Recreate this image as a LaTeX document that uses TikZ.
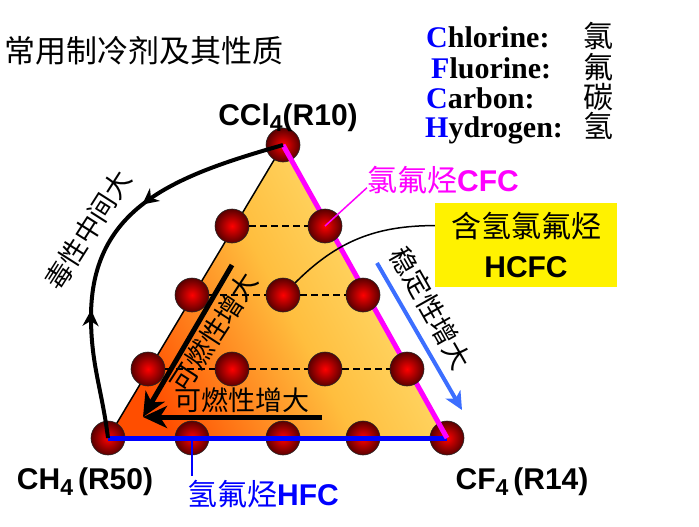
\documentclass[tikz,border=0pt]{standalone}
\usepackage{fontspec}
\setmainfont{Liberation Serif}
\setsansfont{Liberation Sans}
\newfontfamily\cjk{Noto Sans CJK SC}
\usetikzlibrary{arrows.meta,decorations.markings,calc}

\newcommand{\fsz}[1]{\fontsize{#1}{#1}\selectfont}
\newcommand{\subn}[1]{\raisebox{-6pt}{\fsz{23}#1}}
\definecolor{hotorange}{RGB}{255,78,0}
\definecolor{midorange}{RGB}{255,190,62}
\definecolor{paleyellow}{RGB}{255,230,125}
\definecolor{darkball}{RGB}{90,0,0}
\definecolor{arrowblue}{RGB}{60,110,255}
\definecolor{cfcpink}{RGB}{255,0,255}
\definecolor{hfcblue}{RGB}{0,0,255}

\begin{document}
\begin{tikzpicture}[x=1pt,y=1pt,
    ball/.style={circle, minimum size=34pt, inner sep=0pt, draw=black!85,
        line width=0.6pt, inner color=red, outer color=darkball},
    hline/.style={line width=1.5pt, dash pattern=on 7pt off 4pt},
    lbl/.style={font=\sffamily\bfseries\fsz{30}, inner sep=0pt},
    zh/.style={font=\cjk\fsz{27}, inner sep=0pt},
    legend/.style={font=\rmfamily\bfseries\fsz{30}, inner sep=0pt, anchor=base west},
    bigarrow/.style={line width=5pt, -{Stealth[length=24pt,width=22pt,inset=7pt]}}]
\useasboundingbox (0,0) rectangle (699,-527);

% title and legend
\node[font=\cjk\fsz{31}, inner sep=0pt, anchor=west] (title) at (4,-51) {常用制冷剂及其性质};
\foreach \k/\ltr/\rest/\x/\y/\ch in {cl/C/hlorine/426/48/氯, fl/F/luorine/431/78/氟,
        ca/C/arbon/426/108/碳, hy/H/ydrogen/425/137/氢} {
    \node[legend] (\k) at (\x,-\y) {\textcolor{hfcblue}{\ltr}\rest:};
    \node[legend, font=\cjk\fsz{30}] (\k-zh) at (583,-\y) {\ch};
}

% triangle
\coordinate (cl) at (108,-438);
\coordinate (ct) at (283,-145);
\coordinate (cr) at (447,-438);
\shade[left color=hotorange, right color=paleyellow, middle color=midorange, shading angle=118]
    (cl) -- (ct) -- (cr) -- cycle;
\draw[line width=1.5pt] (cl) -- (ct);

% corner and bottom balls
\foreach \n/\x/\y in {b00/108/438, b01/192/438, b02/283/438, b03/363/438, b04/447/438, b40/283/145}
    \node[ball] (\n) at (\x,-\y) {};

\draw[hfcblue, line width=5pt] (b00.center) -- (b04.center);
\draw[cfcpink, line width=5pt] (b40.center) -- (b04.center);

% toxicity path
\coordinate (tox) at (91,-317);
\draw[line width=4pt, postaction={decorate}, decoration={markings,
        mark=at position 0.38 with {\arrow{Stealth[length=16pt,width=16pt,inset=5pt]}},
        mark=at position 0.68 with {\arrowreversed{Stealth[length=16pt,width=16pt,inset=5pt]}}}]
    (b40.center) to[out=196, in=90, looseness=1.1] (tox) to[out=-90, in=97] (b00.center);

% inner balls
\foreach \n/\x/\y in {b10/148/369, b11/232/369, b12/325/369, b13/407/369,
        b20/192/295, b21/283/295, b22/363/295, b30/232/226, b31/325/226}
    \node[ball] (\n) at (\x,-\y) {};
\foreach \a/\b in {b10/b11, b11/b12, b12/b13, b20/b21, b21/b22, b30/b31}
    \draw[hline] (\a.east) -- (\b.west);

% flammability
\coordinate (ftip) at (143,-417);
\coordinate (fup) at (232,-265);
\coordinate (fright) at (322,-417);
\draw[bigarrow] (fup) -- (ftip);
\draw[bigarrow] (fright) -- (ftip);
\node[zh, rotate=57] (flam1) at (214,-332) {可燃性增大};
\node[zh] (flam2) at (242,-400) {可燃性增大};

% stability
\coordinate (sa) at (377,-263);
\coordinate (sb) at (462,-410);
\draw[arrowblue, line width=4pt, -{Stealth[length=18pt,width=17pt,inset=5pt]}] (sa) -- (sb);
\node[zh, rotate=-60.5] (stab) at (431,-308) {稳定性增大};

\node[zh, rotate=57.5] (toxlbl) at (88,-230) {毒性中间大};

% vertex labels
\node[lbl, anchor=base] (ccl4) at (288,-125) {CCl\subn{4}(R10)};
\node[lbl, anchor=base] (ch4) at (85,-489) {CH\subn{4}\,(R50)};
\node[lbl, anchor=base] (cf4) at (522,-489) {CF\subn{4}\,(R14)};

% families
\node[cfcpink, lbl, anchor=base] (cfc) at (443,-191) {{\cjk\mdseries 氯氟烃}CFC};
\draw[cfcpink, line width=1.5pt] ([yshift=6pt]cfc.south west) -- (b31.center);

\node[fill=yellow, minimum width=182pt, minimum height=84pt, inner sep=0pt, align=center,
    font=\fontsize{30}{40}\selectfont] (hcfc) at (526,-245) {{\cjk 含氢氯氟烃}\\{\sffamily\bfseries HCFC}};
\draw[line width=1.5pt] ($(hcfc.north west)!0.27!(hcfc.south west)$) to[out=180, in=45] (b21.45);

\node[hfcblue, lbl, anchor=base] (hfc) at (263,-505) {{\cjk\mdseries 氢氟烃}HFC};
\draw[hfcblue, line width=2pt] (b01.center) -- (b01.center |- 0,-476);
\end{tikzpicture}
\end{document}
